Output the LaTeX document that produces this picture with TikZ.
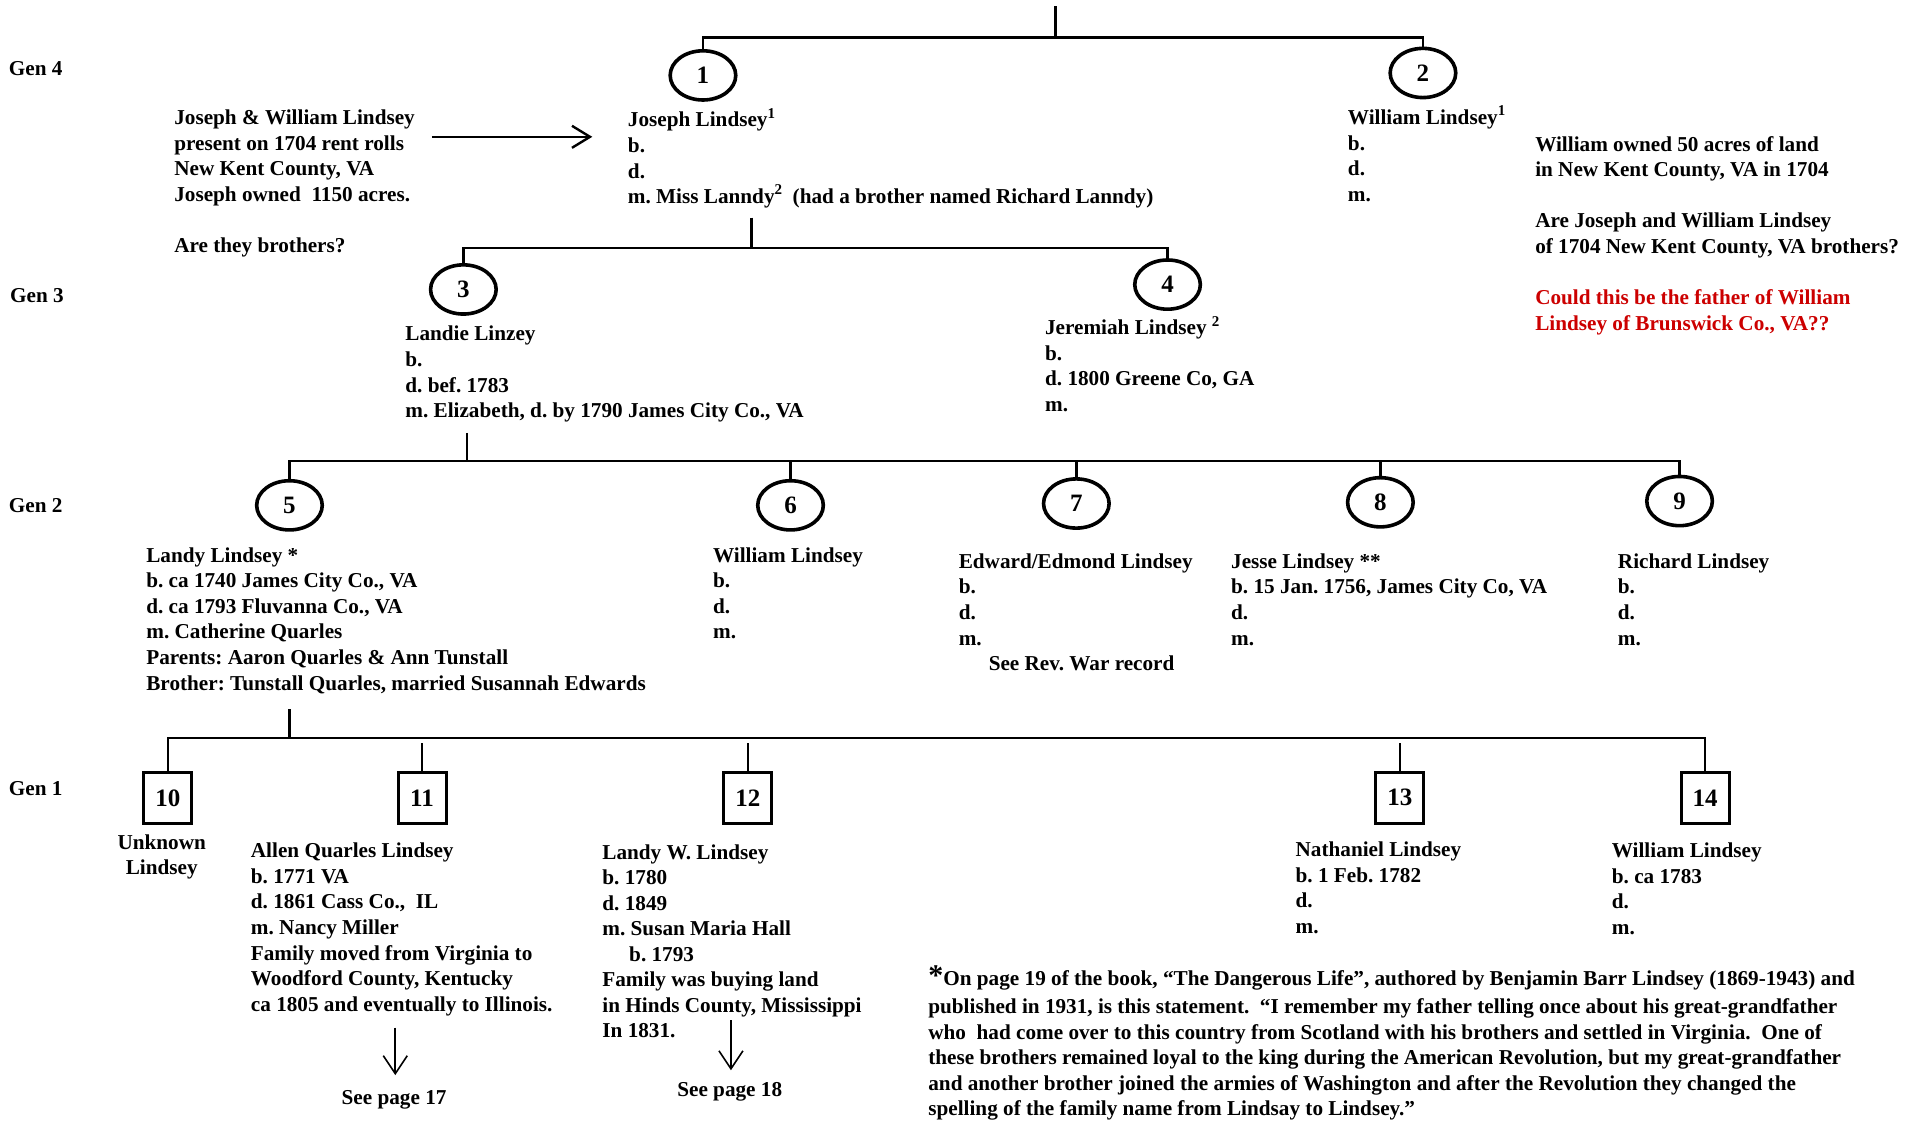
\documentclass[tikz,border=0pt]{standalone}
\usepackage{fontspec}
\setmainfont{Liberation Serif}
\usetikzlibrary{shapes.geometric,arrows.meta}
\definecolor{noteRed}{RGB}{204,0,0}
\newcommand\mystrut{\rule{0pt}{10pt}}
\newcommand\mysup[1]{\raisebox{0.42em}{\fontsize{7.5}{8}\selectfont #1}}
\frenchspacing
\begin{document}
\begin{tikzpicture}[x=0.6081pt,y=-0.6081pt,
  every node/.style={font=\fontsize{10.6}{12.77}\selectfont\bfseries},
  txt/.style={anchor=north west, inner sep=0pt, align=left},
  lbl/.style={anchor=west, inner sep=0pt},
  circ/.style={ellipse, draw, line width=1.8pt, minimum width=32.8pt, minimum height=24.6pt, inner sep=0pt, font=\fontsize{12.5}{14}\selectfont\bfseries},
  sq/.style={rectangle, draw, line width=1.5pt, minimum width=24pt, minimum height=25.5pt, inner sep=0pt, font=\fontsize{12.5}{14}\selectfont\bfseries},
  conn/.style={line width=1.2pt},
  bigarr/.style={line width=1.2pt, -{Straight Barb[length=9pt,width=11pt,line width=1.2pt]}},
  smallarr/.style={line width=0.8pt, -{Straight Barb[length=9pt,width=12pt,line width=0.8pt]}}
]
\useasboundingbox (0,0) rectangle (1568,921);

% generation labels
\node[lbl] (g4) at (7,56) {Gen 4};
\node[lbl] (g3) at (8,243) {Gen 3};
\node[lbl] (g2) at (7,416) {Gen 2};
\node[lbl] (g1) at (7,648) {Gen 1};

% Gen 4
\node[circ] (c1) at (578,62) {1};
\node[circ] (c2) at (1170,60) {2};
\coordinate (r0) at (868,5);
\coordinate (h0) at (868,31);
\draw[conn] (r0) -- (h0);
\draw[conn] (c1.north) -- (c1.north |- h0) -- (c2.north |- h0) -- (c2.north);

\node[txt] (note1) at (143,85.6) {\mystrut Joseph \& William Lindsey\\present on 1704 rent rolls\\New Kent County, VA\\Joseph owned\ \ 1150 acres.\\[12.77pt]Are they brothers?};
\coordinate (a1s) at (355,112.5);
\coordinate (a1e) at (487,112.5);
\draw[bigarr] (a1s) -- (a1e);

\node[txt] (j1) at (516,87.6) {\mystrut Joseph Lindsey\mysup{1}\\b.\\d.\\m. Miss Lanndy\mysup{2}\ \ (had a brother named Richard Lanndy)};
\node[txt] (w1) at (1108,85.6) {\mystrut William Lindsey\mysup{1}\\b.\\d.\\m.};
\node[txt] (note2) at (1262,107.6) {\mystrut William owned 50 acres of land\\in New Kent County, VA in 1704\\[12.77pt]Are Joseph and William Lindsey\\of 1704 New Kent County, VA brothers?};
\node[txt, text=noteRed] (note3) at (1262,233.6) {\mystrut Could this be the father of William\\Lindsey of Brunswick Co., VA??};

% Gen 3
\node[circ] (c3) at (381,238) {3};
\node[circ] (c4) at (960,234) {4};
\coordinate (s1) at (618,179);
\coordinate (h1) at (618,204);
\draw[conn] (s1) -- (h1);
\draw[conn] (c3.north) -- (c3.north |- h1) -- (c4.north |- h1) -- (c4.north);

\node[txt] (l3) at (333,263.6) {\mystrut Landie Linzey\\b.\\d. bef. 1783\\m. Elizabeth, d. by 1790 James City Co., VA};
\node[txt] (j4) at (859,258.6) {\mystrut Jeremiah Lindsey \mysup{2}\\b.\\d. 1800 Greene Co, GA\\m.};

% Gen 2
\node[circ] (c5) at (238,415.5) {5};
\node[circ] (c6) at (650,415.5) {6};
\node[circ] (c7) at (885,414) {7};
\node[circ] (c8) at (1135,413) {8};
\node[circ] (c9) at (1381,412) {9};
\coordinate (s2) at (384,356);
\coordinate (h2) at (384,379);
\draw[conn] (s2) -- (h2);
\draw[conn] (c5.north) -- (c5.north |- h2) -- (c9.north |- h2) -- (c9.north);
\draw[conn] (c6.north |- h2) -- (c6.north);
\draw[conn] (c7.north |- h2) -- (c7.north);
\draw[conn] (c8.north |- h2) -- (c8.north);

\node[txt] (t5) at (120,445.6) {\mystrut Landy Lindsey *\\b. ca 1740 James City Co., VA\\d. ca 1793 Fluvanna Co., VA\\m. Catherine Quarles\\Parents: Aaron Quarles \& Ann Tunstall\\Brother: Tunstall Quarles, married Susannah Edwards};
\node[txt] (t6) at (586,445.6) {\mystrut William Lindsey\\b.\\d.\\m.};
\node[txt] (t7) at (788,450.6) {\mystrut Edward/Edmond Lindsey\\b.\\d.\\m.\\\hspace*{15pt}See Rev. War record};
\node[txt] (t8) at (1012,450.6) {\mystrut Jesse Lindsey **\\b. 15 Jan. 1756, James City Co, VA\\d.\\m.};
\node[txt] (t9) at (1330,450.6) {\mystrut Richard Lindsey\\b.\\d.\\m.};

% Gen 1
\node[sq] (b10) at (138,656) {10};
\node[sq] (b11) at (347,656) {11};
\node[sq] (b12) at (615,656) {12};
\node[sq] (b13) at (1151,656) {13};
\node[sq] (b14) at (1402,656) {14};
\coordinate (s3) at (238,583);
\coordinate (h3) at (238,607);
\coordinate (k3) at (238,611);
\draw[conn] (s3) -- (h3);
\draw[conn] (b10.north) -- (b10.north |- h3) -- (b14.north |- h3) -- (b14.north);
\draw[conn] (b11.north |- k3) -- (b11.north);
\draw[conn] (b12.north |- k3) -- (b12.north);
\draw[conn] (b13.north |- k3) -- (b13.north);

\node[txt, anchor=north, align=center] (t10) at (133,681.6) {\mystrut Unknown\\Lindsey};
\node[txt] (t11) at (206,688.6) {\mystrut Allen Quarles Lindsey\\b. 1771 VA\\d. 1861 Cass Co.,\ \ IL\\m. Nancy Miller\\Family moved from Virginia to\\Woodford County, Kentucky\\ca 1805 and eventually to Illinois.};
\node[txt] (t12) at (495,689.6) {\mystrut Landy W. Lindsey\\b. 1780\\d. 1849\\m. Susan Maria Hall\\\hspace*{13.4pt}b. 1793\\Family was buying land\\in Hinds County, Mississippi\\In 1831.};
\node[txt] (t13) at (1065,687.6) {\mystrut Nathaniel Lindsey\\b. 1 Feb. 1782\\d.\\m.};
\node[txt] (t14) at (1325,688.6) {\mystrut William Lindsey\\b. ca 1783\\d.\\m.};

\coordinate (d17s) at (325,845);
\coordinate (d17e) at (325,884);
\draw[smallarr] (d17s) -- (d17e);
\node[inner sep=0pt] (see17) at (324,904) {See page 17};
\coordinate (d18s) at (601,839);
\coordinate (d18e) at (601,880);
\draw[smallarr] (d18s) -- (d18e);
\node[inner sep=0pt] (see18) at (600,898) {See page 18};

\node[txt] (foot) at (763,793.6) {\mystrut{\fontsize{15}{12}\selectfont *}On page 19 of the book, “The Dangerous Life”, authored by Benjamin Barr Lindsey (1869-1943) and\\[1.2pt]published in 1931, is this statement.\ \ “I remember my father telling once about his great-grandfather\\who\ \ had come over to this country from Scotland with his brothers and settled in Virginia.\ \ One of\\these brothers remained loyal to the king during the American Revolution, but my great-grandfather\\and another brother joined the armies of Washington and after the Revolution they changed the\\spelling of the family name from Lindsay to Lindsey.”};
\end{tikzpicture}
\end{document}
